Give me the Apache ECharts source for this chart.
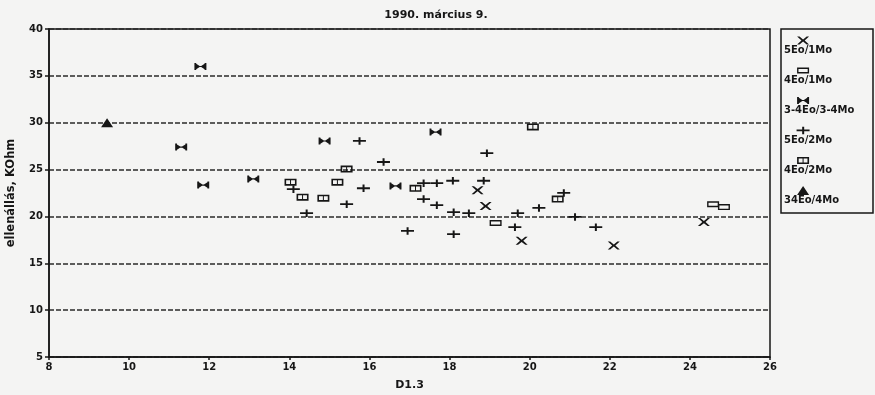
<!DOCTYPE html>
<html>
<head>
<meta charset="utf-8">
<script src="https://cdn.jsdelivr.net/npm/echarts@6/dist/echarts.min.js"></script>
<style>
  html, body { margin: 0; padding: 0; background: #f4f4f3; }
  #chart { width: 875px; height: 395px; }
</style>
</head>
<body>
<div id="chart"></div>
<script>
// Measurements of 9 March 1990: stem diameter (D1.3) vs. resistance (kOhm)
const chartTitle = '1990. március 9.';
const xName = 'D1.3';
const yName = 'ellenállás, KOhm';
const xTicks = [8, 10, 12, 14, 16, 18, 20, 22, 24, 26];
const yTicks = [5, 10, 15, 20, 25, 30, 35, 40];

const seriesNames = ['5Eo/1Mo', '4Eo/1Mo', '3-4Eo/3-4Mo', '5Eo/2Mo', '4Eo/2Mo', '34Eo/4Mo'];

const eo5mo1 = [[18.7, 22.8], [18.9, 21.1], [19.8, 17.4], [22.1, 16.9], [24.35, 19.4]];
const eo4mo1 = [[19.15, 19.3], [24.58, 21.3], [24.85, 21.0]];
const eo34mo34 = [[11.78, 36.0], [11.3, 27.4], [11.85, 23.35], [13.1, 24.0], [14.88, 28.05], [17.65, 29.0], [16.65, 23.25]];
const eo5mo2 = [
  [14.1, 22.9], [14.43, 20.35], [15.75, 28.05], [16.35, 25.8], [15.85, 23.0], [15.43, 21.3],
  [17.35, 23.55], [17.68, 23.55], [18.08, 23.8], [18.85, 23.8], [17.35, 21.85], [17.68, 21.2],
  [18.1, 20.45], [18.48, 20.35], [16.95, 18.45], [18.1, 18.1], [18.93, 26.75], [19.7, 20.35],
  [20.23, 20.9], [20.85, 22.5], [21.13, 19.95], [19.63, 18.85], [21.65, 18.85]
];
const eo4mo2 = [[14.03, 23.65], [14.33, 22.05], [14.85, 21.95], [15.43, 25.05], [15.2, 23.65], [17.15, 23.0], [20.08, 29.55], [20.7, 21.85]];
const eo34mo4 = [[9.45, 30.0]];

// marker shapes (sub-paths wound the same way so they merge when filled)
const ink = '#161616';
const pathCross = 'M0,0 L2.4,0 L6,2.9 L9.6,0 L12,0 L7.6,4 L12,8 L9.6,8 L6,5.1 L2.4,8 L0,8 L4.4,4 Z';
const pathBeam = 'M0,0 H1.8 V7 H0 Z M10.2,0 H12 V7 H10.2 Z M1.8,0.8 L6,3.5 L1.8,6.2 Z M10.2,0.8 L10.2,6.2 L6,3.5 Z M1.8,2.9 H10.2 V4.1 H1.8 Z';
const pathPlus = 'M0,2.8 H5.6 V0 H7.6 V2.8 H13 V4.6 H7.6 V7.5 H5.6 V4.6 H0 Z';
const pathBox2 = 'M0,0 H12 V7 H0 Z M1.6,1.6 V5.4 H5.5 V1.6 Z M6.5,1.6 V5.4 H10.4 V1.6 Z';
const pathBox1 = 'M0,0 H12 V6 H0 Z M1.4,1.4 V4.6 H10.6 V1.4 Z';
const pathTri = 'M6,0 L12,9 L0,9 Z';

const markers = [
  { data: eo5mo1, path: pathCross, size: [12, 8] },
  { data: eo4mo1, path: pathBox1, size: [12, 6] },
  { data: eo34mo34, path: pathBeam, size: [12, 7] },
  { data: eo5mo2, path: pathPlus, size: [13, 7.5] },
  { data: eo4mo2, path: pathBox2, size: [12, 7] },
  { data: eo34mo4, path: pathTri, size: [12, 9] }
];

const font = 'DejaVu Sans';
const series = markers.map((m, i) => ({
  name: seriesNames[i],
  type: 'scatter',
  data: m.data,
  symbol: 'path://' + m.path,
  symbolSize: m.size,
  symbolKeepAspect: false,
  itemStyle: { color: ink, opacity: 1 },
  z: 5
}));

// key box: each symbol sits on its own line, its label on the line below
const keyLeft = 781, keyTop = 29, keyW = 92, keyH = 184;
const keyStep = 30, keyFirst = 11.5;
markers.forEach((m, i) => {
  series.push({
    name: seriesNames[i] + ' (key)',
    type: 'scatter',
    xAxisIndex: 1,
    yAxisIndex: 1,
    data: [[0.24, i]],
    symbol: 'path://' + m.path,
    symbolSize: m.size,
    symbolKeepAspect: false,
    itemStyle: { color: ink, opacity: 1 },
    silent: true,
    z: 5
  });
});
const keyGraphics = [{
  type: 'rect',
  shape: { x: keyLeft, y: keyTop, width: keyW, height: keyH },
  style: { fill: 'none', stroke: ink, lineWidth: 1.5 }
}];
seriesNames.forEach((name, i) => {
  keyGraphics.push({
    type: 'text',
    x: keyLeft + 3,
    y: keyTop + keyFirst + 10 + i * keyStep,
    style: { text: name, fill: ink, font: 'bold 10px ' + font, textVerticalAlign: 'middle' }
  });
});

const chart = echarts.init(document.getElementById('chart'), null, { renderer: 'canvas' });
chart.setOption({
  backgroundColor: '#f4f4f3',
  animation: false,
  title: {
    text: chartTitle,
    left: 431,
    top: 5,
    textAlign: 'center',
    textStyle: { fontFamily: font, fontSize: 11, fontWeight: 'bold', color: ink }
  },
  grid: [
    { left: 49, right: 105, top: 29, bottom: 38, containLabel: false, outerBoundsMode: 'none',
      show: true, borderColor: ink, borderWidth: 1.5, backgroundColor: 'transparent' },
    { left: keyLeft, top: keyTop, width: keyW, height: keyH, show: false,
      containLabel: false, outerBoundsMode: 'none' }
  ],
  xAxis: [{
    type: 'value',
    min: 8, max: 26, interval: 2,
    name: xName,
    nameLocation: 'middle',
    nameGap: 23,
    nameTextStyle: { fontFamily: font, fontSize: 11, fontWeight: 'bold', color: ink },
    axisLine: { lineStyle: { color: ink, width: 1.5 } },
    axisTick: { show: true, length: 3, lineStyle: { color: ink, width: 1.5 } },
    axisLabel: { fontFamily: font, fontSize: 10, fontWeight: 'bold', color: ink, margin: 5,
      formatter: v => xTicks.includes(v) ? String(v) : '' },
    splitLine: { show: false }
  }, {
    type: 'value', gridIndex: 1, min: 0, max: 1, show: false
  }],
  yAxis: [{
    type: 'value',
    min: 5, max: 40, interval: 5,
    name: yName,
    nameLocation: 'middle',
    nameGap: 32,
    nameRotate: 90,
    nameTextStyle: { fontFamily: font, fontSize: 11.5, fontWeight: 'bold', color: ink },
    axisLine: { lineStyle: { color: ink, width: 1.5 } },
    axisTick: { show: true, length: 4, lineStyle: { color: ink, width: 1.5 } },
    axisLabel: { fontFamily: font, fontSize: 10, fontWeight: 'bold', color: ink, margin: 6,
      formatter: v => yTicks.includes(v) ? String(v) : '' },
    splitLine: { show: true, lineStyle: { color: '#2a2a2a', width: 1.6, type: [5, 2] } }
  }, {
    type: 'value', gridIndex: 1, inverse: true, show: false,
    min: -keyFirst / keyStep, max: -keyFirst / keyStep + keyH / keyStep
  }],
  graphic: keyGraphics,
  series: series
});
</script>
</body>
</html>
